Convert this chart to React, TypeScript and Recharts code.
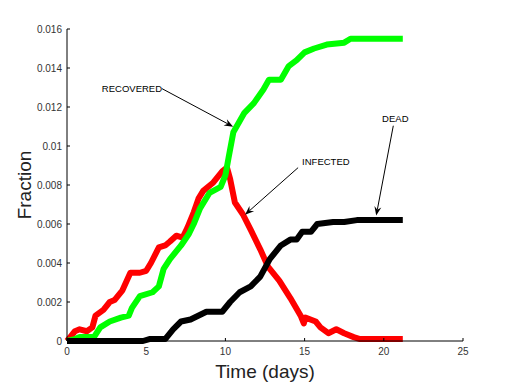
import React from 'react';
import { LineChart, Line, XAxis, YAxis, ReferenceLine, Label } from 'recharts';

// tick labels
const timeTicks = [0, 5, 10, 15, 20, 25];
const fractionTicks = [0, 0.002, 0.004, 0.006, 0.008, 0.01, 0.012, 0.014, 0.016];

// series (t = days, v = fraction)
const infected = [
  { t: 0, v: 0 }, { t: 0.2, v: 0.0002 }, { t: 0.5, v: 0.0005 }, { t: 0.8, v: 0.0006 },
  { t: 1.25, v: 0.0005 }, { t: 1.6, v: 0.0007 }, { t: 1.8, v: 0.0013 }, { t: 2.3, v: 0.0016 },
  { t: 2.7, v: 0.002 }, { t: 3.0, v: 0.0021 }, { t: 3.5, v: 0.0026 }, { t: 4.0, v: 0.0035 },
  { t: 4.6, v: 0.0035 }, { t: 5.0, v: 0.0036 }, { t: 5.3, v: 0.004 }, { t: 5.8, v: 0.0048 },
  { t: 6.2, v: 0.0049 }, { t: 6.5, v: 0.0051 }, { t: 6.9, v: 0.0054 }, { t: 7.3, v: 0.0053 },
  { t: 7.6, v: 0.0058 }, { t: 8.0, v: 0.0066 }, { t: 8.3, v: 0.0073 }, { t: 8.6, v: 0.0077 },
  { t: 9.2, v: 0.0081 }, { t: 9.8, v: 0.0087 }, { t: 10.1, v: 0.0089 }, { t: 10.3, v: 0.0083 },
  { t: 10.6, v: 0.0071 }, { t: 11.1, v: 0.0065 }, { t: 11.6, v: 0.0057 }, { t: 12.2, v: 0.0047 },
  { t: 12.7, v: 0.0038 }, { t: 13.4, v: 0.0031 }, { t: 14.1, v: 0.0022 }, { t: 14.75, v: 0.0013 },
  { t: 14.95, v: 0.0009 }, { t: 15.05, v: 0.0012 }, { t: 15.7, v: 0.001 }, { t: 16.0, v: 0.0007 },
  { t: 16.5, v: 0.0004 }, { t: 17.0, v: 0.0006 }, { t: 17.5, v: 0.0004 }, { t: 18.1, v: 0.0002 },
  { t: 18.5, v: 0.0001 }, { t: 21.2, v: 0.0001 },
];

const recovered = [
  { t: 0, v: 0 }, { t: 0.5, v: 0.0001 }, { t: 0.8, v: 0.0002 }, { t: 1.7, v: 0.0002 },
  { t: 2.1, v: 0.0007 }, { t: 2.7, v: 0.001 }, { t: 3.4, v: 0.0012 }, { t: 3.9, v: 0.0013 },
  { t: 4.1, v: 0.0017 }, { t: 4.6, v: 0.0023 }, { t: 5.4, v: 0.0025 }, { t: 5.8, v: 0.0028 },
  { t: 6.1, v: 0.0037 }, { t: 6.5, v: 0.0042 }, { t: 7.2, v: 0.0049 }, { t: 7.7, v: 0.0055 },
  { t: 8.0, v: 0.006 }, { t: 8.4, v: 0.0068 }, { t: 9.0, v: 0.0076 }, { t: 9.7, v: 0.0079 },
  { t: 10.0, v: 0.0085 }, { t: 10.2, v: 0.0094 }, { t: 10.5, v: 0.0107 }, { t: 11.2, v: 0.0117 },
  { t: 11.8, v: 0.0122 }, { t: 12.4, v: 0.0129 }, { t: 12.75, v: 0.0134 }, { t: 13.5, v: 0.0134 },
  { t: 14.0, v: 0.0141 }, { t: 14.5, v: 0.0144 }, { t: 15.0, v: 0.0148 }, { t: 15.6, v: 0.015 },
  { t: 16.4, v: 0.0152 }, { t: 17.5, v: 0.0153 }, { t: 17.9, v: 0.0155 }, { t: 21.2, v: 0.0155 },
];

const dead = [
  { t: 0, v: 0 }, { t: 4.8, v: 0 }, { t: 5.2, v: 0.0001 }, { t: 6.2, v: 0.0001 },
  { t: 6.7, v: 0.0006 }, { t: 7.2, v: 0.001 }, { t: 7.8, v: 0.0011 }, { t: 8.8, v: 0.0015 },
  { t: 9.8, v: 0.0015 }, { t: 10.3, v: 0.002 }, { t: 10.9, v: 0.0025 }, { t: 11.6, v: 0.0028 },
  { t: 12.2, v: 0.0033 }, { t: 12.8, v: 0.0042 }, { t: 13.5, v: 0.0049 }, { t: 14.1, v: 0.0052 },
  { t: 14.5, v: 0.0052 }, { t: 14.85, v: 0.0056 }, { t: 15.4, v: 0.0056 }, { t: 15.8, v: 0.006 },
  { t: 16.8, v: 0.0061 }, { t: 17.5, v: 0.0061 }, { t: 18.3, v: 0.0062 }, { t: 21.2, v: 0.0062 },
];

// annotation arrows, in data units
const notes = [
  { text: 'RECOVERED', from: { x: 6.0, y: 0.01294 }, to: { x: 10.49, y: 0.01099 }, anchor: 'end', dx: 0, dy: 3.5 },
  { text: 'INFECTED', from: { x: 14.59, y: 0.00889 }, to: { x: 11.24, y: 0.00648 }, anchor: 'start', dx: 4, dy: -2.5 },
  { text: 'DEAD', from: { x: 20.6, y: 0.01104 }, to: { x: 19.52, y: 0.00643 }, anchor: 'middle', dx: 2, dy: -3.5 },
];

const FONT = '"Liberation Sans", Arial, sans-serif';

const arrowShape = (note: any) => (props: any) => {
  const { x1, y1, x2, y2 } = props;
  const a = Math.atan2(y2 - y1, x2 - x1);
  const L = 9, W = 3.5, N = 6;
  const bx = x2 - L * Math.cos(a), by = y2 - L * Math.sin(a);
  const nx = x2 - N * Math.cos(a), ny = y2 - N * Math.sin(a);
  const px = -Math.sin(a) * W, py = Math.cos(a) * W;
  const head = `M${x2},${y2} L${bx + px},${by + py} L${nx},${ny} L${bx - px},${by - py} Z`;
  return (
    <g>
      <line x1={x1} y1={y1} x2={nx} y2={ny} stroke="#000" strokeWidth={1} />
      <path d={head} fill="#000" />
      <text x={x1 + note.dx} y={y1 + note.dy} textAnchor={note.anchor} fontSize={9.5} fontFamily={FONT} fill="#000">
        {note.text}
      </text>
    </g>
  );
};

const YTick = (props: any) => {
  const { x, y, payload } = props;
  return (
    <g>
      <line x1={x + 5} x2={x + 8} y1={y} y2={y} stroke="#000" />
      <text x={x} y={y + 3.5} textAnchor="end" fontSize={10} fontFamily={FONT} fill="#333">
        {payload.value}
      </text>
    </g>
  );
};

const XTick = (props: any) => {
  const { x, y, payload } = props;
  return (
    <g>
      <line x1={x} x2={x} y1={y - 5} y2={y - 8} stroke="#000" />
      <text x={x} y={y + 9} textAnchor="middle" fontSize={10} fontFamily={FONT} fill="#333">
        {payload.value}
      </text>
    </g>
  );
};

export default function App() {
  return (
    <div style={{ position: 'absolute', left: 0, top: 0, background: '#fff' }}>
      <LineChart width={512} height={384} margin={{ top: 29, right: 49, left: 0, bottom: 13 }}>
        <XAxis
          dataKey="t"
          type="number"
          domain={[0, 25]}
          ticks={timeTicks}
          interval={0}
          height={30}
          tickSize={0}
          tickMargin={5}
          tickLine={false}
          tick={<XTick />}
          axisLine={{ stroke: '#000' }}
        >
          <Label
            content={({ viewBox }: any) => (
              <text x={viewBox.x + viewBox.width / 2} y={378} textAnchor="middle" fontSize={19} fontFamily={FONT} fill="#222">
                Time (days)
              </text>
            )}
          />
        </XAxis>
        <YAxis
          dataKey="v"
          type="number"
          domain={[0, 0.016]}
          ticks={fractionTicks}
          interval={0}
          width={67}
          tickSize={0}
          tickMargin={5}
          tickLine={false}
          tick={<YTick />}
          axisLine={{ stroke: '#000' }}
        >
          <Label
            content={({ viewBox }: any) => (
              <text
                x={31}
                y={viewBox.y + viewBox.height / 2}
                transform={`rotate(-90 31 ${viewBox.y + viewBox.height / 2})`}
                textAnchor="middle"
                fontSize={19}
                fontFamily={FONT}
                fill="#222"
              >
                Fraction
              </text>
            )}
          />
        </YAxis>
        <Line data={infected} dataKey="v" stroke="#ff0000" strokeWidth={6} dot={false} isAnimationActive={false} strokeLinejoin="round" />
        <Line data={recovered} dataKey="v" stroke="#00ff00" strokeWidth={6} dot={false} isAnimationActive={false} strokeLinejoin="round" />
        <Line data={dead} dataKey="v" stroke="#000000" strokeWidth={6} dot={false} isAnimationActive={false} strokeLinejoin="round" />
        {notes.map((n) => (
          <ReferenceLine key={n.text} segment={[n.from, n.to]} ifOverflow="visible" shape={arrowShape(n)} />
        ))}
      </LineChart>
    </div>
  );
}
